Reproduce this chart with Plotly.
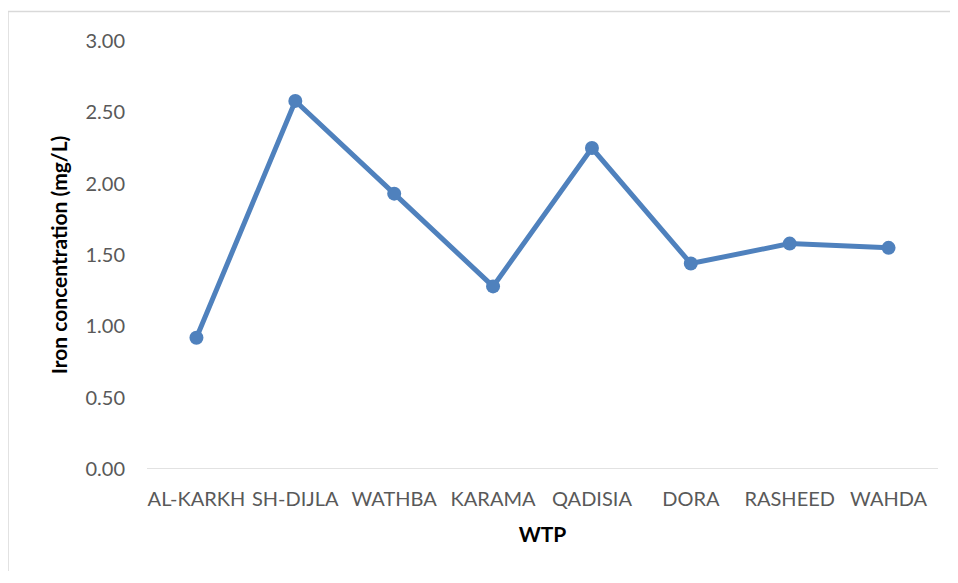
import plotly.graph_objects as go

categories = ["AL-KARKH", "SH-DIJLA", "WATHBA", "KARAMA", "QADISIA", "DORA", "RASHEED", "WAHDA"]
iron_values = [0.92, 2.58, 1.93, 1.28, 2.25, 1.44, 1.58, 1.55]
y_ticks = [0, 0.5, 1.0, 1.5, 2.0, 2.5, 3.0]
y_tick_labels = ["0.00", "0.50", "1.00", "1.50", "2.00", "2.50", "3.00"]

# page body has an 8px margin, so the figure is drawn smaller and shifted
OFF = 8
W, H = 958 - 2 * OFF, 583 - 2 * OFF - 4
L, T = 147 - OFF, 41 - OFF
R = W - (938 - OFF)
B = H - (469 - OFF)
pw, ph = W - L - R, H - T - B

fig = go.Figure()
fig.add_trace(go.Scatter(
    x=categories, y=iron_values, mode="lines+markers",
    line=dict(color="#4F81BD", width=5),
    marker=dict(color="#4F81BD", size=14),
    showlegend=False,
))

font = "Lato, Carlito, 'Liberation Sans', sans-serif"

def px_x(p):
    return (p - OFF - L) / pw

def px_y(p):
    return 1 - (p - OFF - T) / ph

fig.update_layout(
    width=W, height=H,
    margin=dict(l=L, r=R, t=T, b=B),
    paper_bgcolor="white", plot_bgcolor="white",
    font=dict(family=font, color="#595959", size=20),
    xaxis=dict(
        type="category", range=[-0.5, 7.5],
        showgrid=False, showline=False, zeroline=False,
        ticks="", tickfont=dict(size=20, color="#595959"),
        ticklabelstandoff=16,
        title=dict(text="<b>WTP</b>", font=dict(size=21, color="#000000"), standoff=18),
    ),
    yaxis=dict(
        range=[0, 3], tickvals=y_ticks, ticktext=y_tick_labels,
        showgrid=False, showline=False, zeroline=False,
        ticks="", tickfont=dict(size=20, color="#595959"),
        ticklabelstandoff=21,
        title=dict(text="<b>Iron concentration (mg/L)</b>", font=dict(size=21, color="#000000"), standoff=12),
    ),
    shapes=[
        dict(type="line", xref="paper", yref="y", x0=0, x1=1, y0=0, y1=0,
             line=dict(color="#D9D9D9", width=1.5), layer="below"),
        dict(type="line", xref="paper", yref="paper", x0=px_x(8), x1=px_x(8), y0=px_y(11.5), y1=px_y(H + OFF),
             line=dict(color="#D9D9D9", width=1.5)),
        dict(type="line", xref="paper", yref="paper", x0=px_x(8), x1=px_x(W + OFF), y0=px_y(11.5), y1=px_y(11.5),
             line=dict(color="#D9D9D9", width=1.5)),
    ],
)

fig.write_html("out.html")
